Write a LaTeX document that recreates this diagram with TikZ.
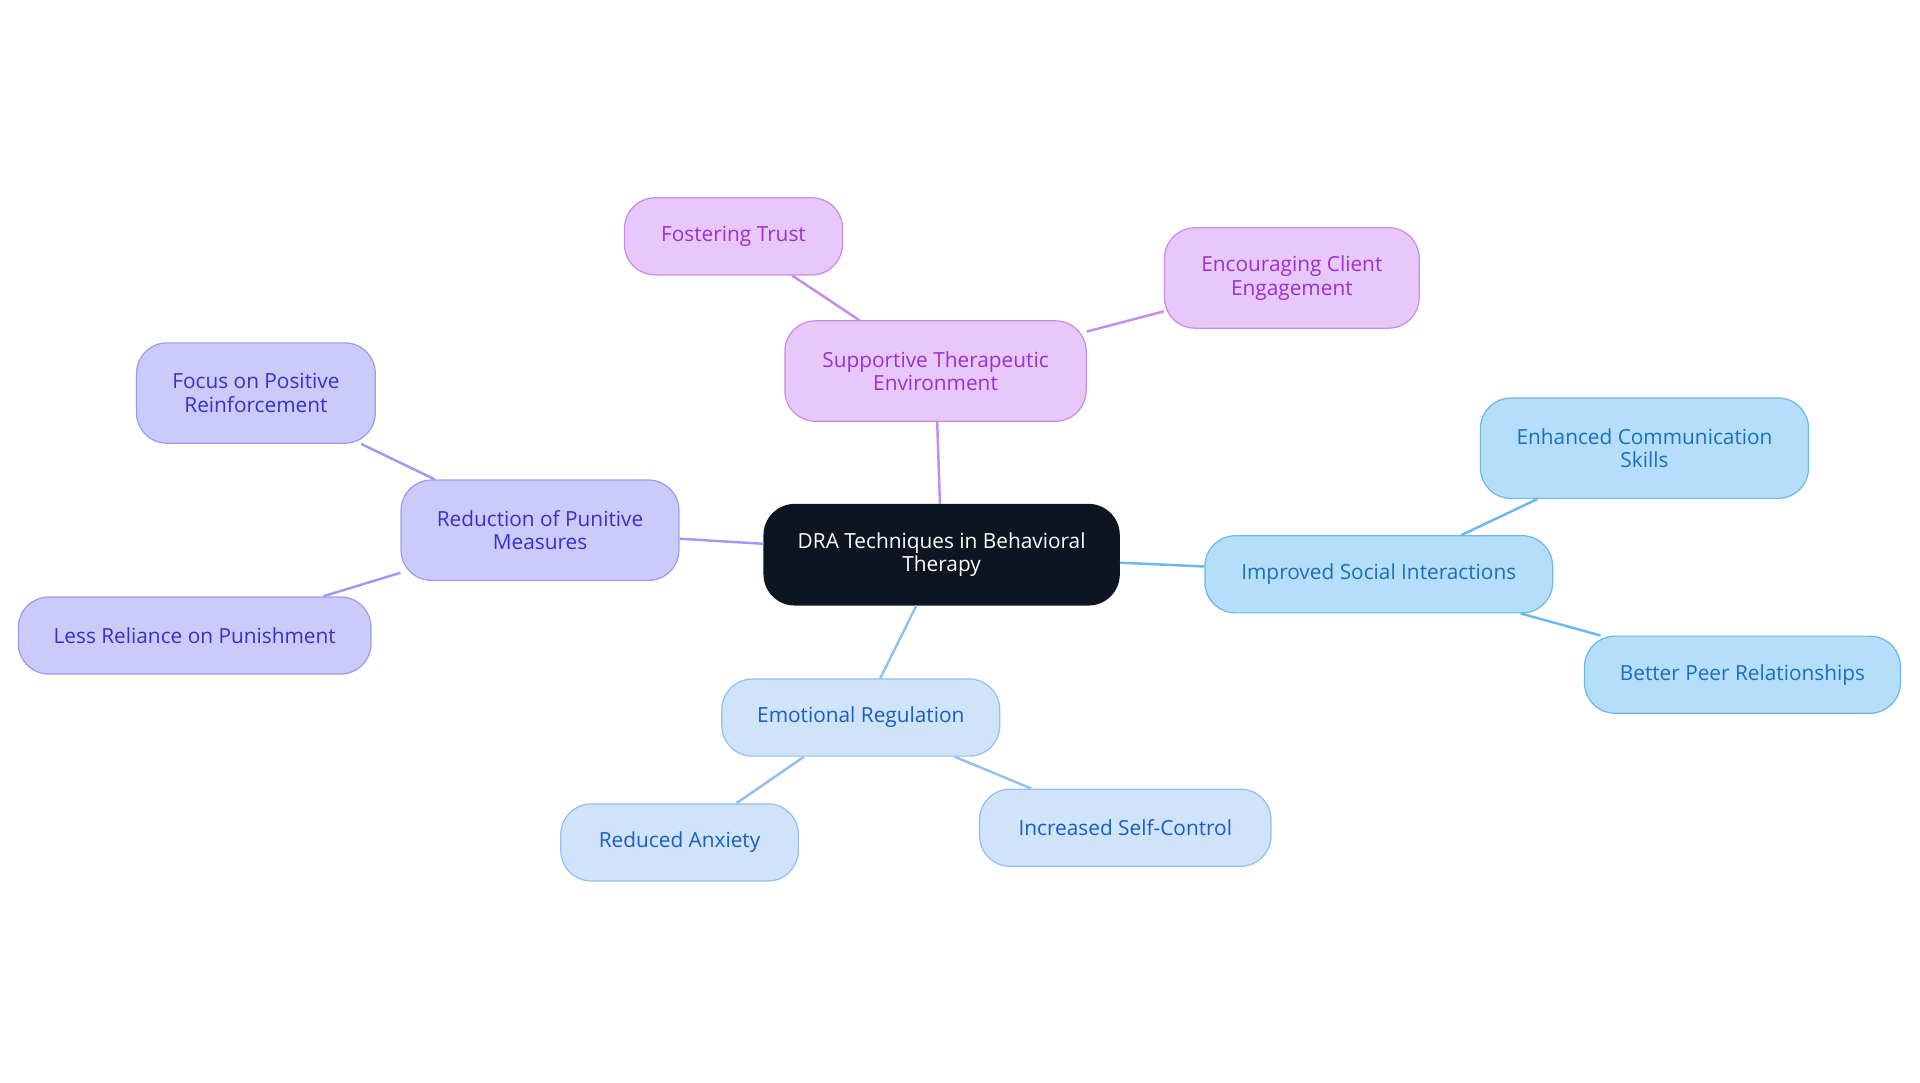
\documentclass[tikz,border=0pt]{standalone}
\usepackage{fontspec}
\setmainfont{Open Sans}
\definecolor{cblack}{HTML}{0D1520}
\definecolor{pfill}{HTML}{E8C8FB}\definecolor{pline}{HTML}{C98AE8}\definecolor{ptext}{HTML}{9B30D0}
\definecolor{vfill}{HTML}{CBCBFB}\definecolor{vline}{HTML}{9D9BEF}\definecolor{vtext}{HTML}{3B2FC8}
\definecolor{bfill}{HTML}{B5DEFB}\definecolor{bline}{HTML}{6CB8EE}\definecolor{btext}{HTML}{1A70B8}
\definecolor{lfill}{HTML}{CFE3FB}\definecolor{lline}{HTML}{93C0F0}\definecolor{ltext}{HTML}{1A5FC0}
\tikzset{
 box/.style={rounded corners=25pt,align=center,font=\fontsize{17}{19}\selectfont,inner sep=0pt,line width=1pt},
 pbox/.style={box,draw=pline,fill=pfill,text=ptext},
 vbox/.style={box,draw=vline,fill=vfill,text=vtext},
 bbox/.style={box,draw=bline,fill=bfill,text=btext},
 lbox/.style={box,draw=lline,fill=lfill,text=ltext},
 ed/.style={line width=2pt},
}
\begin{document}
\begin{tikzpicture}[x=1pt,y=-1pt]
\useasboundingbox (0,0) rectangle (1568,884);
\node[box,fill=cblack,draw=cblack,text=white,minimum width=290,minimum height=82] (c) at (769,453) {DRA Techniques in Behavioral\\Therapy};
\node[pbox,minimum width=246,minimum height=82] (s) at (764,303) {Supportive Therapeutic\\Environment};
\node[pbox,minimum width=178,minimum height=63] (s1) at (599,193) {Fostering Trust};
\node[pbox,minimum width=208,minimum height=82] (s2) at (1055,227) {Encouraging Client\\Engagement};
\node[vbox,minimum width=227,minimum height=82] (r) at (441,433) {Reduction of Punitive\\Measures};
\node[vbox,minimum width=195,minimum height=82] (r1) at (209,321) {Focus on Positive\\Reinforcement};
\node[vbox,minimum width=288,minimum height=63] (r2) at (159,519) {Less Reliance on Punishment};
\node[bbox,minimum width=284,minimum height=63] (i) at (1126,469) {Improved Social Interactions};
\node[bbox,minimum width=268,minimum height=82] (i1) at (1343,366) {Enhanced Communication\\Skills};
\node[bbox,minimum width=258,minimum height=63] (i2) at (1423,551) {Better Peer Relationships};
\node[lbox,minimum width=227,minimum height=63] (e) at (703,586) {Emotional Regulation};
\node[lbox,minimum width=194,minimum height=63] (e1) at (555,688) {Reduced Anxiety};
\node[lbox,minimum width=238,minimum height=63] (e2) at (919,676) {Increased Self-Control};
\begin{scope}[on background layer/.try]
\end{scope}
\draw[ed,pline] (c) -- (s); \draw[ed,pline] (s) -- (s1); \draw[ed,pline] (s) -- (s2);
\draw[ed,vline] (c) -- (r); \draw[ed,vline] (r) -- (r1); \draw[ed,vline] (r) -- (r2);
\draw[ed,bline] (c) -- (i); \draw[ed,bline] (i) -- (i1); \draw[ed,bline] (i) -- (i2);
\draw[ed,lline] (c) -- (e); \draw[ed,lline] (e) -- (e1); \draw[ed,lline] (e) -- (e2);
\end{tikzpicture}
\end{document}
